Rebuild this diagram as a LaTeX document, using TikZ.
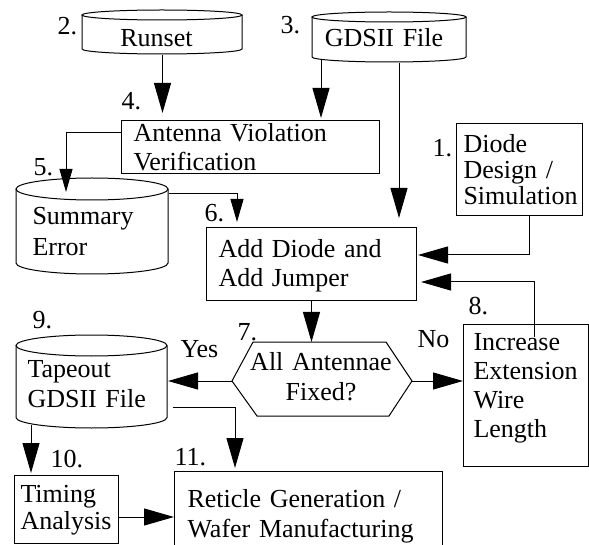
\documentclass[tikz,border=0pt]{standalone}
\usepackage{fontspec}
\setmainfont{Liberation Serif}
\usetikzlibrary{arrows.meta,calc}
\newcommand\dbdraw[5]{% x1 y1 x2 y2 ry
  \draw ({(#1+#3)/2},{#2+#5}) ellipse [x radius={(#3-#1)/2*1pt}, y radius=#5pt];
  \draw (#1,{#2+#5}) -- (#1,{#4-#5}) arc[start angle=180, end angle=360, x radius={(#3-#1)/2*1pt}, y radius=#5pt] -- (#3,{#2+#5});
}
\begin{document}
\begin{tikzpicture}[x=1pt,y=-1pt, line width=1pt,
  boxnode/.style={draw, rectangle, inner sep=0pt, anchor=north west},
  holder/.style={draw=none, rectangle, inner sep=0pt, anchor=north west},
  txt/.style={font=\fontsize{26}{29}\selectfont, inner sep=0pt, anchor=base west, align=left, text width=280pt},
  ctxt/.style={font=\fontsize{26}{30}\selectfont, inner sep=0pt, anchor=base, align=center, text width=200pt},
  num/.style={font=\fontsize{26}{29}\selectfont, inner sep=0pt, anchor=base west},
  big/.style={-{Triangle[length=30pt,width=17pt]}},
  small/.style={-{Triangle[length=23pt,width=13pt]}},
]
\useasboundingbox (0,0) rectangle (589,545);
\clip (0,0) rectangle (589,545);

% cylinders
\dbdraw{82}{10}{242}{54}{5}
\node[holder, minimum width=160pt, minimum height=44pt] (runset) at (82,10) {};
\dbdraw{312}{12}{466}{62}{5}
\node[holder, minimum width=154pt, minimum height=50pt] (gds) at (312,12) {};
\dbdraw{16}{178}{168}{274}{11}
\node[holder, minimum width=152pt, minimum height=96pt] (summary) at (16,178) {};
\dbdraw{16}{335}{167}{428}{10.5}
\node[holder, minimum width=151pt, minimum height=93pt] (tapeout) at (16,335) {};

% boxes
\node[boxnode, minimum width=258pt, minimum height=53pt] (antenna) at (121,120) {};
\node[boxnode, minimum width=126pt, minimum height=92pt] (diode) at (456,123) {};
\node[boxnode, minimum width=210pt, minimum height=73pt] (adddiode) at (206,227) {};
\node[boxnode, minimum width=125pt, minimum height=142pt] (increase) at (463,324) {};
\node[boxnode, minimum width=104pt, minimum height=68pt] (timing) at (14,475) {};
\node[boxnode, minimum width=268pt, minimum height=80pt] (reticle) at (174,471) {};
\node[holder, minimum width=179pt, minimum height=73pt] (hex) at (232,342) {};
\draw ($(hex.north west)+(0,39)$) -- ($(hex.north west)+(21,0)$) -- ($(hex.north east)+(-26,0)$)
  -- ($(hex.north east)+(0,39)$) -- ($(hex.south east)+(-23,0)$) -- ($(hex.south west)+(25,0)$) -- cycle;

% texts
\node[ctxt] (trunset) at (156.5,47) {Runset};
\node[ctxt] (tgds) at (384,47) {GDSII File};
\node[txt] (tantenna) at (133,142) {Antenna Violation\\Verification};
\node[txt, font=\fontsize{26}{31}\selectfont] (tsummary) at (32,225) {Summary\\Error};
\node[txt] (tadd) at (218,258) {Add Diode and\\Add Jumper};
\node[txt, font=\fontsize{26}{26}\selectfont] (tdiode) at (463,153) {Diode\\Design /\\Simulation};
\node[txt, font=\fontsize{26}{29.3}\selectfont] (tinc) at (473,350) {Increase\\Extension\\Wire\\Length};
\node[txt, font=\fontsize{26}{30}\selectfont] (ttape) at (27,377) {Tapeout\\GDSII File};
\node[ctxt] (thex) at (321,370) {All Antennae\\Fixed?};
\node[txt, font=\fontsize{26}{27}\selectfont] (ttiming) at (20,502) {Timing\\Analysis};
\node[txt, font=\fontsize{26}{30}\selectfont] (tret) at (187,507) {Reticle Generation /\\Wafer Manufacturing};

% numbers and labels
\node[num] (n2) at (57,35) {2.};
\node[num] (n3) at (280,34) {3.};
\node[num] (n4) at (121,110) {4.};
\node[num] (n5) at (33,176) {5.};
\node[num] (n1) at (432,157) {1.};
\node[num] (n6) at (204,222) {6.};
\node[num] (n7) at (237,341) {7.};
\node[num] (n8) at (468,315) {8.};
\node[num] (n9) at (32,329) {9.};
\node[num] (n10) at (50,467) {10.};
\node[num] (n11) at (174,465) {11.};
\node[num] (lno) at (417,347) {No};
\node[num] (lyes) at (180,357) {Yes};

% connector points
\coordinate (gA) at ($(gds.south west)+(9,-3)$);
\coordinate (gB) at ($(gds.south west)+(87,0)$);
\coordinate (aL) at ($(antenna.north west)+(0,13)$);
\coordinate (sT) at ($(summary.north west)+(50,14)$);
\coordinate (sR) at ($(summary.north east)+(0,16)$);
\coordinate (dT) at ($(adddiode.north west)+(31,-5)$);
\coordinate (dB) at ($(diode.south west)+(73,0)$);
\coordinate (aR1) at ($(adddiode.north east)+(1,28)$);
\coordinate (iT) at ($(increase.north west)+(71,13)$);
\coordinate (aR2) at ($(adddiode.north east)+(4,55)$);
\coordinate (hR) at ($(hex.north east)+(0,39)$);
\coordinate (hL) at ($(hex.north west)+(0,39)$);
\coordinate (tR) at ($(tapeout.north east)+(5,72)$);
\coordinate (rT) at ($(reticle.north west)+(61,-3)$);
\coordinate (tB) at ($(tapeout.south west)+(15,-4)$);
\coordinate (mT) at ($(timing.north west)+(17,-2)$);
\coordinate (mR) at ($(timing.north east)+(0,42)$);

% connectors
\draw[big, shorten >=7pt] (runset.south) -- (runset.south |- antenna.north);
\draw[big, shorten >=2pt] (gA) -- (gA |- antenna.north);
\draw[big, shorten >=9pt] (gB) -- (gB |- adddiode.north);
\draw[small] (aL) -| (sT);
\draw[small] (sR) -| (dT);
\draw[big] (dB) |- (aR1);
\draw[big] (iT) |- (aR2);
\draw[big] (adddiode.south) -- (adddiode.south |- hex.north);
\draw[big] (hR) -- (hR -| increase.west);
\draw[big] (hL) -- (hL -| tapeout.east);
\draw[big] (tR) -| (rT);
\draw[big] (tB) -- (mT);
\draw[big] (mR) -- (mR -| reticle.west);
\end{tikzpicture}
\end{document}
